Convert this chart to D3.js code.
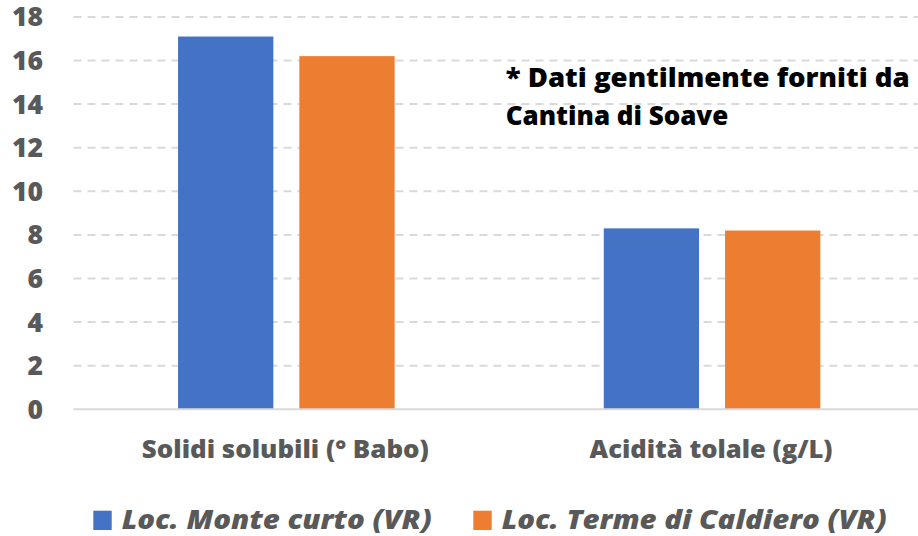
<!DOCTYPE html>
<html><head><meta charset="utf-8">
<script src="https://cdn.jsdelivr.net/npm/d3@7"></script>
<style>
html,body{margin:0;padding:0;background:#fff;}
svg{display:block;}
text{font-family:"Open Sans","Noto Sans",sans-serif;font-weight:800;}
</style></head>
<body>
<svg id="chart" width="918" height="536"></svg>
<script>
const categories = ["Solidi solubili (° Babo)", "Acidità tolale (g/L)"];
const seriesNames = ["Loc. Monte curto (VR)", "Loc. Terme di Caldiero (VR)"];
const monteCurto = [17.1, 8.3];
const termeCaldiero = [16.2, 8.2];
const yTicks = [0, 2, 4, 6, 8, 10, 12, 14, 16, 18];
const noteLines = ["* Dati gentilmente forniti da", "Cantina di Soave"];
const colors = ["#4472C4", "#ED7D31"];

const seriesValues = [monteCurto, termeCaldiero];
const svg = d3.select("#chart");

const y = d3.scaleLinear().domain([0, 18]).range([409.3, 16.9]);
const x0 = d3.scaleBand().domain(categories).range([73.5, 924.9]).paddingInner(0).paddingOuter(0);
const x1 = d3.scaleBand().domain(seriesNames).range([0, x0.bandwidth()]).paddingInner(0.2144).paddingOuter(0.862);

function fit(sel, w) {
  sel.attr("textLength", w).attr("lengthAdjust", "spacingAndGlyphs");
}

// gridlines
const grid = svg.append("g");
grid.selectAll("line").data(yTicks.filter(d => d !== 0)).join("line")
  .attr("x1", 73.5).attr("x2", 918)
  .attr("y1", d => y(d)).attr("y2", d => y(d))
  .attr("stroke", "#d9d9d9").attr("stroke-width", 2)
  .attr("stroke-dasharray", "8,6");

// bars
const groups = svg.append("g").selectAll("g").data(categories).join("g")
  .attr("transform", d => `translate(${x0(d)},0)`);
groups.selectAll("rect")
  .data((c, i) => seriesNames.map((s, j) => ({ s, j, v: seriesValues[j][i] })))
  .join("rect")
  .attr("x", d => x1(d.s))
  .attr("width", x1.bandwidth())
  .attr("y", d => y(d.v))
  .attr("height", d => y(0) - y(d.v))
  .attr("fill", d => colors[d.j]);

// baseline
svg.append("line")
  .attr("x1", 73.5).attr("x2", 918)
  .attr("y1", y(0)).attr("y2", y(0))
  .attr("stroke", "#d9d9d9").attr("stroke-width", 2);

// y tick labels
svg.append("g").selectAll("text").data(yTicks).join("text")
  .attr("x", 43).attr("y", d => y(d) + 9.5)
  .attr("text-anchor", "end")
  .attr("font-size", 26.5)
  .attr("fill", "#595959")
  .text(d => d);

// category labels
const catWidths = [287, 243];
svg.append("g").selectAll("text").data(categories).join("text")
  .attr("x", d => x0(d) + x0.bandwidth() / 2 - 1)
  .attr("y", 458.3)
  .attr("text-anchor", "middle")
  .attr("font-size", 24)
  .attr("fill", "#595959")
  .text(d => d)
  .each(function(d, i) { fit(d3.select(this), catWidths[i]); });

// annotation
const noteWidths = [404, 222.6];
svg.append("g").selectAll("text").data(noteLines).join("text")
  .attr("x", 505.7)
  .attr("y", (d, i) => 86.7 + i * 38.3)
  .attr("font-size", 26)
  .attr("fill", "#000")
  .text(d => d)
  .each(function(d, i) { fit(d3.select(this), noteWidths[i]); });

// legend
const legX = [93.3, 473.3];
const legW = [310, 385];
const leg = svg.append("g").selectAll("g").data(seriesNames).join("g");
leg.append("rect")
  .attr("x", (d, i) => legX[i]).attr("y", 510.7)
  .attr("width", 18.4).attr("height", 19.3)
  .attr("fill", (d, i) => colors[i]);
leg.append("text")
  .attr("x", (d, i) => legX[i] + 28.4)
  .attr("y", 529.3)
  .attr("font-size", 26.5)
  .attr("font-style", "italic")
  .attr("fill", "#595959")
  .text(d => d)
  .each(function(d, i) { fit(d3.select(this), legW[i]); });
</script>
</body></html>
